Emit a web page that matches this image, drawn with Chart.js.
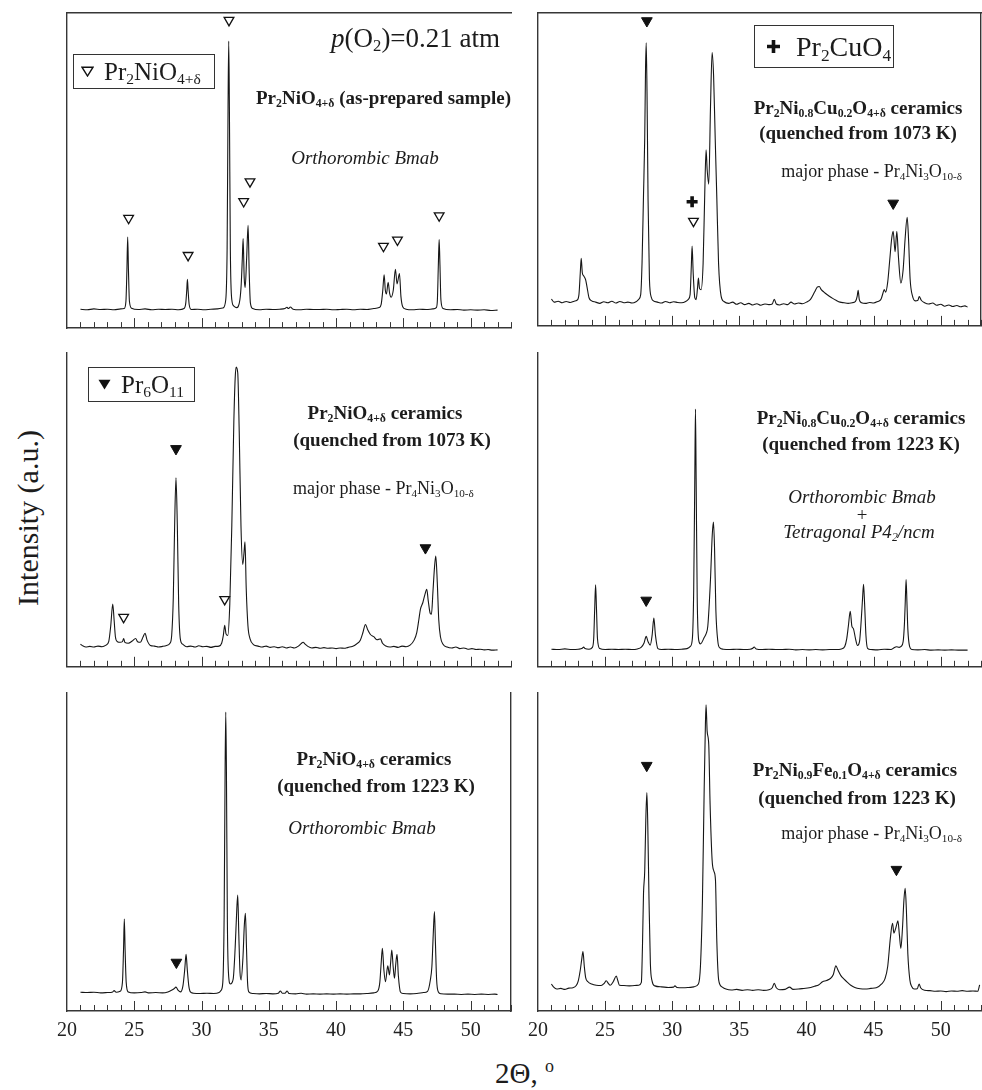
<!DOCTYPE html>
<html>
<head>
<meta charset="utf-8">
<title>XRD patterns of Pr2NiO4+δ based ceramics</title>
<script src="https://cdn.jsdelivr.net/npm/chart.js@4.4.1/dist/chart.umd.min.js"></script>
<style>
  html, body { margin: 0; padding: 0; background: #fff; }
  body {
    width: 982px; height: 1090px; position: relative; overflow: hidden;
    font-family: "Liberation Serif", "Times New Roman", serif; color: #1c1c1c;
  }
  canvas { position: absolute; }
  .t { position: absolute; white-space: nowrap; line-height: 1; z-index: 2; }
  .c { transform: translate(-50%, -50%); }
  .l { transform: translate(0, -50%); }
  .r { transform: translate(-100%, -50%); }
  .b { font-weight: bold; font-size: 19px; }
  .i { font-style: italic; font-size: 19px; }
  .n { font-size: 18px; }
  sub { font-size: 0.62em; vertical-align: -0.28em; line-height: 0; }
  sup { font-size: 0.62em; vertical-align: 0.6em; line-height: 0; }
  .box {
    position: absolute; border: 1px solid #333; box-sizing: border-box; z-index: 2;
    display: flex; align-items: center; white-space: nowrap; line-height: 1;
  }
  .box svg { flex: none; }
</style>
</head>
<body>

<!-- axis titles -->
<div class="t c" style="left:28px;top:518px;font-size:30px;transform:translate(-50%,-50%) rotate(-90deg);">Intensity (a.u.)</div>
<div class="t l" style="left:495px;top:1073px;font-size:29px;">2&Theta;, <sup>o</sup></div>

<!-- top-left panel -->
<div class="box" style="left:73px;top:54px;width:142px;height:35px;padding-left:7px;font-size:25px;">
  <svg width="13" height="11" viewBox="0 0 13 11"><path d="M1 1.2 L12 1.2 L6.5 10 Z" fill="none" stroke="#111" stroke-width="1.4"/></svg>
  <span style="margin-left:10px;">Pr<sub>2</sub>NiO<sub>4+&delta;</sub></span>
</div>
<div class="t l" style="left:331px;top:38px;font-size:27px;"><i>p</i>(O<sub>2</sub>)=0.21 atm</div>
<div class="t l b" style="left:256px;top:97px;">Pr<sub>2</sub>NiO<sub>4+&delta;</sub> (as-prepared sample)</div>
<div class="t c i" style="left:365px;top:157px;">Orthorombic Bmab</div>

<!-- top-right panel -->
<div class="box" style="left:754px;top:25px;width:140px;height:43px;padding-left:11px;font-size:28px;">
  <svg width="15" height="15" viewBox="0 0 15 15"><path d="M7.5 1 V14 M1 7.5 H14" stroke="#111" stroke-width="3.6"/></svg>
  <span style="margin-left:15px;">Pr<sub>2</sub>CuO<sub>4</sub></span>
</div>
<div class="t c b" style="left:858px;top:107px;">Pr<sub>2</sub>Ni<sub>0.8</sub>Cu<sub>0.2</sub>O<sub>4+&delta;</sub> ceramics</div>
<div class="t c b" style="left:858px;top:132px;">(quenched from 1073 K)</div>
<div class="t r n" style="left:962px;top:171px;">major phase - Pr<sub>4</sub>Ni<sub>3</sub>O<sub>10-&delta;</sub></div>

<!-- middle-left panel -->
<div class="box" style="left:88px;top:367px;width:107px;height:35px;padding-left:9px;font-size:25px;">
  <svg width="13" height="11" viewBox="0 0 13 11"><path d="M0.5 0.8 L12.5 0.8 L6.5 10.5 Z" fill="#111"/></svg>
  <span style="margin-left:10px;">Pr<sub>6</sub>O<sub>11</sub></span>
</div>
<div class="t c b" style="left:385px;top:412px;">Pr<sub>2</sub>NiO<sub>4+&delta;</sub> ceramics</div>
<div class="t c b" style="left:392px;top:439px;">(quenched from 1073 K)</div>
<div class="t l n" style="left:293px;top:488px;">major phase - Pr<sub>4</sub>Ni<sub>3</sub>O<sub>10-&delta;</sub></div>

<!-- middle-right panel -->
<div class="t c b" style="left:861px;top:417px;">Pr<sub>2</sub>Ni<sub>0.8</sub>Cu<sub>0.2</sub>O<sub>4+&delta;</sub> ceramics</div>
<div class="t c b" style="left:861px;top:443px;">(quenched from 1223 K)</div>
<div class="t c i" style="left:862px;top:496px;">Orthorombic Bmab</div>
<div class="t c i" style="left:862px;top:514px;">+</div>
<div class="t c i" style="left:859px;top:531px;">Tetragonal P4<sub>2</sub>/ncm</div>

<!-- bottom-left panel -->
<div class="t c b" style="left:374px;top:758px;">Pr<sub>2</sub>NiO<sub>4+&delta;</sub> ceramics</div>
<div class="t c b" style="left:376px;top:785px;">(quenched from 1223 K)</div>
<div class="t c i" style="left:362px;top:827px;">Orthorombic Bmab</div>

<!-- bottom-right panel -->
<div class="t c b" style="left:855px;top:769px;">Pr<sub>2</sub>Ni<sub>0.9</sub>Fe<sub>0.1</sub>O<sub>4+&delta;</sub> ceramics</div>
<div class="t c b" style="left:857px;top:797px;">(quenched from 1223 K)</div>
<div class="t r n" style="left:962px;top:833px;">major phase - Pr<sub>4</sub>Ni<sub>3</sub>O<sub>10-&delta;</sub></div>

<script>
// ---------- axis settings ----------
const twoThetaMin = 20;
const twoThetaMax = 53;
const twoThetaLabels = [20, 25, 30, 35, 40, 45, 50];
const intensityMin = 0;
const intensityMax = 100;

// ---------- diffraction patterns: [2θ (deg), intensity (a.u.)] ----------
// Pr2NiO4+δ, as-prepared
const patternAsPrepared = [
  [21.0,6.0],[21.5,5.8],[22.0,6.1],[22.5,5.9],[23.0,6.0],[23.5,5.8],[24.0,6.1],[24.25,6.2],
  [24.38,8.5],[24.45,18],[24.51,28.9],[24.57,18],[24.64,8.5],[24.8,6.3],
  [25.3,5.9],[25.8,6.1],[26.3,5.8],[26.8,6.0],[27.3,5.9],[27.8,6.0],[28.3,5.8],[28.7,6.2],
  [28.83,8],[28.9,12],[28.95,15.5],[29.0,12],[29.08,7.5],[29.25,5.9],
  [29.7,6.0],[30.2,5.8],[30.7,6.0],[31.2,6.1],[31.6,6.4],
  [31.8,9],[31.9,25],[31.97,70],[32.02,91.1],[32.07,70],[32.14,25],[32.25,9],[32.4,7.0],
  [32.6,6.5],[32.85,9],[32.95,14],[33.03,22],[33.09,28.4],[33.17,16],[33.24,12.9],[33.35,22],[33.46,32.6],[33.54,18],[33.63,8],[33.8,6.2],
  [34.3,5.8],[34.8,6.0],[35.3,5.9],[35.8,6.0],[36.2,6.2],[36.35,6.6],[36.45,6.2],[36.6,6.7],[36.8,6.0],
  [37.3,5.8],[37.8,6.0],[38.3,5.9],[38.8,5.9],[39.3,6.0],[39.8,5.8],[40.3,5.9],[40.8,6.0],[41.3,5.8],
  [41.8,6.0],[42.3,5.9],[42.8,6.2],[43.2,6.5],
  [43.35,7.5],[43.47,12],[43.57,16.9],[43.66,12],[43.74,10.8],[43.87,14.5],[43.98,11],[44.09,9.8],
  [44.25,12],[44.41,18.7],[44.53,14],[44.71,17.3],[44.82,10],[44.95,6.8],[45.2,6.0],
  [45.7,5.8],[46.2,6.0],[46.7,5.9],[47.2,6.1],[47.45,6.5],
  [47.53,9],[47.6,20],[47.66,28.1],[47.72,20],[47.79,9],[47.95,6.2],
  [48.5,5.8],[49.0,5.9],[49.5,5.7],[50.0,5.8],[50.5,5.7],[51.0,5.8],[51.5,5.6],[52.0,5.7]
];
const openMarksAsPrepared = [[24.58,34.9],[29.0,23.1],[32.04,97.7],[33.13,40.2],[33.6,46.5],[43.52,26.0],[44.56,28.0],[47.66,35.7]];

// Pr2Ni0.8Cu0.2O4+δ, quenched from 1073 K
const patternCu1073 = [
  [21.0,8.6],[21.2,7.6],[21.5,7.9],[21.8,7.4],[22.1,7.8],[22.4,7.5],[22.7,7.9],[22.9,8.2],
  [23.05,10],[23.15,17],[23.22,21.6],[23.3,17],[23.4,16],[23.55,14.7],[23.65,12.5],[23.8,9],[24.0,8],
  [24.3,7.6],[24.6,7.2],[24.9,7.7],[25.2,7.4],[25.5,7.9],[25.8,7.3],[26.1,7.8],[26.4,7.4],[26.7,7.6],[27.0,7.3],[27.3,7.7],[27.5,8.5],
  [27.65,10],[27.75,20],[27.86,42],[27.95,60],[28.01,82],[28.06,90.5],[28.12,75],[28.2,40],[28.3,15],[28.45,9],[28.6,8],
  [28.9,7.6],[29.2,7.3],[29.5,7.8],[29.8,7.4],[30.1,7.7],[30.4,7.5],[30.7,7.4],[31.0,7.8],[31.2,8.5],
  [31.33,10],[31.42,19],[31.48,25.5],[31.56,17],[31.68,9],[31.78,8.4],[31.88,12],[31.95,15.3],[32.03,12],[32.15,11.6],
  [32.3,20],[32.42,42],[32.52,56.3],[32.6,50],[32.72,45.3],[32.85,70],[32.97,87.4],[33.08,80],[33.2,60],[33.32,41],[33.45,20],[33.64,9.5],[33.85,7.8],
  [34.2,7.2],[34.5,7.6],[34.8,6.9],[35.1,7.4],[35.4,6.8],[35.7,7.2],[36.0,6.7],[36.3,7.1],[36.6,6.6],[36.9,7.0],[37.2,6.8],[37.45,7.0],[37.6,8.5],[37.75,7.0],
  [38.0,6.7],[38.3,7.1],[38.6,6.8],[38.85,7.6],[39.1,7.0],[39.4,7.3],[39.7,7.1],[40.0,7.6],
  [40.3,8.5],[40.6,10.8],[40.8,12.4],[40.95,12.6],[41.1,11.6],[41.3,10.8],[41.5,10.1],[41.7,9.5],[41.95,8.8],[42.2,8.2],[42.5,7.6],[42.8,7.4],[43.1,7.2],[43.4,7.4],[43.65,7.8],
  [43.78,9.5],[43.85,11.4],[43.93,8.5],[44.1,7.4],[44.4,7.2],[44.7,7.5],[45.0,7.3],[45.3,7.8],[45.55,8.5],
  [45.7,10.5],[45.79,11.6],[45.9,10.8],[46.05,14],[46.2,21],[46.35,28],[46.46,30.2],[46.6,23.7],[46.73,30.2],[46.85,22],[47.03,13.7],
  [47.2,18],[47.35,28],[47.5,34.7],[47.6,28],[47.72,15],[47.9,9.5],[48.1,8.0],
  [48.3,8.2],[48.4,9.4],[48.55,8.2],[48.8,7.4],[49.1,7.0],[49.4,7.3],[49.7,6.6],[50.0,6.9],[50.3,6.3],[50.6,6.7],[50.9,6.2],[51.2,6.5],[51.5,6.1],[51.8,6.4],[52.0,6.0]
];
const filledMarksCu1073 = [[28.11,97.5],[46.46,39.2]];
const plusMarksCu1073 = [[31.48,39.7]];
const openMarksCu1073 = [[31.58,33.5]];

// Pr2NiO4+δ, quenched from 1073 K
const patternNi1073 = [
  [21.0,7.2],[21.2,6.6],[21.4,6.3],[21.7,6.5],[22.0,6.3],[22.3,6.6],[22.6,6.4],[22.9,6.9],[23.1,8],
  [23.25,13],[23.4,20],[23.5,15],[23.6,9.5],[23.75,8],[23.95,7.8],
  [24.12,8],[24.21,9.0],[24.3,7.8],[24.55,7.5],[24.85,8.2],[25.1,9.0],[25.25,8.0],[25.45,7.8],[25.65,9.5],[25.8,10.7],[25.95,8.5],
  [26.2,6.8],[26.5,6.6],[26.8,6.3],[27.1,6.5],[27.4,6.8],[27.65,7.5],
  [27.78,10],[27.9,22],[28.0,45],[28.1,60.2],[28.2,45],[28.3,20],[28.42,9],[28.6,7.2],
  [28.9,6.4],[29.2,6.6],[29.5,6.3],[29.8,6.7],[30.1,6.4],[30.4,6.5],[30.7,6.2],[31.0,6.5],[31.3,6.6],[31.5,7.6],
  [31.62,10],[31.72,13.2],[31.82,10.5],[31.95,10],[32.1,20],[32.25,45],[32.4,78],[32.5,92],[32.57,95.5],[32.69,93.7],
  [32.8,75],[32.93,45],[33.06,32.6],[33.15,36],[33.23,39.8],[33.32,25],[33.45,13],[33.6,9],[33.88,7.0],
  [34.2,6.6],[34.5,6.3],[34.8,6.6],[35.1,6.2],[35.4,6.4],[35.7,6.1],[36.0,6.4],[36.3,6.0],[36.6,6.3],[36.9,6.0],
  [37.2,6.6],[37.4,7.4],[37.55,7.8],[37.7,7.2],[37.9,6.5],[38.2,6.0],[38.5,6.2],[38.8,5.9],[39.1,6.1],[39.4,5.9],
  [39.7,6.0],[40.0,5.8],[40.3,6.0],[40.6,5.9],[40.9,6.2],[41.2,6.5],[41.5,7.2],[41.8,8.5],
  [42.0,11],[42.18,13.5],[42.35,11.8],[42.55,10.3],[42.8,9.6],[43.05,8.6],[43.3,8.9],[43.45,7.5],[43.7,6.6],
  [44.0,6.3],[44.3,6.5],[44.6,6.2],[44.9,6.6],[45.2,6.4],[45.5,6.9],[45.8,8.5],
  [46.0,11],[46.15,15],[46.27,18.4],[46.45,20.5],[46.6,23],[46.74,24.7],[46.85,21],[47.0,17],[47.09,16.8],
  [47.2,24],[47.32,32],[47.41,35.3],[47.52,27],[47.63,15],[47.76,9.5],[47.95,7.2],[48.25,6.3],
  [48.6,6.0],[48.9,6.3],[49.2,5.8],[49.5,6.0],[49.8,5.6],[50.1,5.8],[50.4,5.5],[50.7,5.6],[51.0,5.4],[51.3,5.5],[51.6,5.3],[52.0,5.4]
];
const openMarksNi1073 = [[24.21,15.8],[31.72,21.5]];
const filledMarksNi1073 = [[28.1,69.5],[46.64,37.9]];

// Pr2Ni0.8Cu0.2O4+δ, quenched from 1223 K
const patternCu1223 = [
  [21.0,5.6],[21.5,5.5],[22.0,5.7],[22.5,5.5],[23.0,5.6],[23.3,5.9],[23.4,6.3],[23.5,5.8],[23.8,5.6],[24.05,6.2],
  [24.15,9],[24.22,18],[24.29,26.1],[24.36,18],[24.43,9],[24.6,5.8],
  [25.0,5.5],[25.5,5.6],[26.0,5.5],[26.5,5.6],[27.0,5.5],[27.4,5.7],[27.7,6.3],
  [27.9,7.6],[28.06,9.7],[28.2,8.0],[28.36,6.9],[28.5,10],[28.63,15.5],[28.75,10],[28.93,5.8],[29.2,5.5],
  [29.7,5.6],[30.2,5.5],[30.7,5.6],[31.1,5.8],[31.35,6.5],
  [31.5,9],[31.6,25],[31.68,60],[31.73,82.1],[31.78,60],[31.86,22],[31.97,8.5],[32.1,7.3],
  [32.4,9.5],[32.52,10.5],[32.65,13],[32.85,28],[32.98,42],[33.07,46.1],[33.15,38],[33.25,18],[33.4,8],[33.55,6.0],[33.8,5.6],
  [34.3,5.5],[34.8,5.6],[35.3,5.5],[35.8,5.6],[36.0,5.9],[36.1,6.3],[36.25,5.7],[36.7,5.5],[37.2,5.6],[37.7,5.5],
  [38.2,5.5],[38.7,5.6],[39.2,5.4],[39.7,5.5],[40.2,5.4],[40.7,5.5],[41.2,5.4],[41.7,5.5],[42.2,5.5],[42.6,5.7],[42.85,6.5],
  [43.0,9],[43.12,13],[43.26,17.7],[43.38,13],[43.5,12.1],[43.65,9],[43.8,6.8],[43.95,8],[44.08,15],[44.18,22],[44.25,26.3],
  [44.33,20],[44.43,10],[44.55,5.9],[44.8,5.5],
  [45.3,5.4],[45.8,5.6],[46.3,5.5],[46.5,6.0],[46.7,6.4],[46.9,6.2],[47.05,6.5],[47.2,8],
  [47.3,14],[47.36,21],[47.42,27.8],[47.48,21],[47.55,12],[47.68,6.5],[47.85,5.5],
  [48.3,5.4],[48.8,5.5],[49.3,5.3],[49.8,5.4],[50.3,5.3],[50.8,5.4],[51.3,5.3],[51.8,5.3],[52.0,5.3]
];
const filledMarksCu1223 = [[28.06,21.2]];

// Pr2NiO4+δ, quenched from 1223 K
const patternNi1223 = [
  [21.0,5.9],[21.5,5.8],[22.0,5.9],[22.5,5.7],[23.0,5.8],[23.4,6.0],[23.5,6.4],[23.65,5.9],[23.95,6.2],
  [24.12,9],[24.2,19],[24.26,28.9],[24.32,19],[24.4,9],[24.55,6.0],
  [25.0,5.7],[25.5,5.8],[25.8,6.0],[26.1,5.7],[26.6,5.8],[27.1,5.7],[27.5,6.0],[27.8,6.6],
  [27.95,7.0],[28.1,7.5],[28.25,6.6],[28.43,6.0],[28.62,8],[28.75,13],[28.85,17.8],[28.94,13],[29.05,8],[29.17,6.0],[29.4,5.6],
  [29.9,5.5],[30.4,5.6],[30.9,5.5],[31.3,5.8],[31.45,6.5],
  [31.58,9],[31.68,30],[31.75,75],[31.8,94],[31.85,75],[31.92,28],[32.0,12],[32.14,8.5],
  [32.35,10],[32.5,20],[32.62,32],[32.69,36.5],[32.77,24],[32.86,12],[32.94,9.8],
  [33.08,17],[33.18,27],[33.26,30.7],[33.34,20],[33.42,9],[33.51,6.0],[33.8,5.5],
  [34.3,5.4],[34.8,5.5],[35.3,5.4],[35.7,5.6],[35.86,6.3],[36.0,5.6],[36.2,5.6],[36.36,6.3],[36.5,5.5],
  [37.0,5.4],[37.4,5.6],[37.8,5.3],[38.3,5.4],[38.8,5.3],[39.3,5.4],[39.8,5.3],[40.3,5.4],[40.8,5.3],
  [41.3,5.4],[41.8,5.4],[42.3,5.5],[42.8,5.7],[43.1,6.3],
  [43.25,9],[43.35,15],[43.44,19.7],[43.55,13],[43.67,9.2],[43.84,14.2],[43.97,11.3],[44.05,15],[44.14,19.2],
  [44.24,14],[44.34,10.3],[44.44,15],[44.53,17.8],[44.63,11],[44.78,6.0],[45.0,5.5],
  [45.5,5.4],[46.0,5.5],[46.5,5.8],[46.8,6.2],[47.0,9.6],
  [47.12,14],[47.22,24],[47.31,31.3],[47.38,22],[47.47,10],[47.6,6.0],[47.8,5.4],
  [48.3,5.3],[48.8,5.3],[49.3,5.2],[49.8,5.3],[50.3,5.2],[50.8,5.3],[51.3,5.2],[51.8,5.3],[52.0,5.2]
];
const filledMarksNi1223 = [[28.13,15.3]];

// Pr2Ni0.9Fe0.1O4+δ, quenched from 1223 K
const patternFe1223 = [
  [21.0,8.5],[21.15,7.6],[21.4,6.9],[21.7,7.1],[22.0,6.8],[22.3,7.2],[22.6,7.3],[22.85,8.0],[23.0,9.5],
  [23.15,12.9],[23.25,16],[23.35,18.7],[23.45,14],[23.55,10.5],[23.72,9.2],[24.0,8.5],[24.34,8.1],[24.7,8.0],[24.95,8.8],
  [25.08,9.5],[25.25,8.6],[25.38,8.1],[25.6,9.2],[25.83,11],[25.95,9.5],[26.07,8.1],[26.4,8.0],[26.8,7.9],[27.2,8.0],[27.5,8.1],[27.7,9],
  [27.78,20],[27.86,37],[27.95,44],[28.03,60],[28.11,68.7],[28.18,58],[28.27,35],[28.37,15],[28.5,9.4],[28.7,7.9],
  [29.2,7.6],[29.7,7.4],[30.1,7.5],[30.2,7.9],[30.35,7.4],[30.8,7.3],[31.2,7.4],[31.6,7.6],[31.95,8.5],
  [32.1,14],[32.25,35],[32.38,70],[32.47,90],[32.52,96.3],[32.6,88],[32.72,83.7],[32.82,65],[32.97,47.5],[33.1,44],[33.22,41.2],
  [33.32,22],[33.46,9.7],[33.7,7.6],[34.0,6.9],
  [34.4,6.6],[34.8,6.8],[35.2,6.5],[35.6,6.7],[36.0,6.5],[36.4,6.7],[36.8,6.5],[37.2,6.7],[37.45,7.3],[37.6,8.7],[37.75,7.3],
  [38.0,6.7],[38.4,6.8],[38.74,7.5],[39.0,6.8],[39.4,6.9],[39.8,7.1],[40.2,7.3],[40.6,7.8],[40.9,8.2],[41.2,9.2],[41.5,9.6],[41.8,10.3],[42.0,11.5],
  [42.19,14.2],[42.35,12.8],[42.55,11.2],[42.8,10.0],[43.05,9.0],[43.3,8.1],[43.6,7.4],[44.0,7.0],[44.4,6.9],[44.8,7.1],[45.2,7.3],[45.6,8.5],[45.85,10.2],
  [46.05,14],[46.25,23],[46.41,27.6],[46.51,24.5],[46.61,25.5],[46.71,27],[46.81,28.4],[46.92,24],[47.03,19.7],
  [47.15,26],[47.26,35],[47.35,38.6],[47.44,32],[47.55,18],[47.7,9.8],[47.85,7.6],[48.02,6.9],
  [48.25,7.0],[48.39,8.5],[48.5,7.3],[48.8,6.5],[49.2,6.4],[49.6,6.2],[50.0,6.3],[50.4,6.1],[50.8,6.3],[51.2,6.2],
  [51.6,6.4],[52.0,6.2],[52.4,6.3],[52.75,6.2],[52.9,8.2]
];
const filledMarksFe1223 = [[28.1,77.2],[46.7,44.5]];

// ---------- panel layout (page pixels) ----------
const PAD = { left: 20, right: 20, top: 10, bottom: 4 };
const LABEL_BAND = 40;
const INK = '#161616';
const AXIS_INK = '#363636';
const FONT = '"Liberation Serif", "Times New Roman", serif';

const panels = [
  { left: 67,  top: 13,  width: 444, height: 318, pattern: patternAsPrepared, open: openMarksAsPrepared, topBorder: true },
  { left: 538, top: 13,  width: 443, height: 318, pattern: patternCu1073, filled: filledMarksCu1073, plus: plusMarksCu1073, open: openMarksCu1073, topBorder: true, rightBorder: true },
  { left: 67,  top: 353, width: 444, height: 317, pattern: patternNi1073, open: openMarksNi1073, filled: filledMarksNi1073 },
  { left: 538, top: 353, width: 443, height: 317, pattern: patternCu1223, filled: filledMarksCu1223 },
  { left: 67,  top: 693, width: 444, height: 318, pattern: patternNi1223, filled: filledMarksNi1223, rightBorder: true, labels: true },
  { left: 538, top: 693, width: 443, height: 318, pattern: patternFe1223, filled: filledMarksFe1223, labels: true }
];

// inward tick marks on the 2θ axis: long every 5°, short every 1°
const innerTicks = {
  id: 'innerTicks',
  afterDatasetsDraw(chart) {
    const { ctx, chartArea } = chart;
    const sx = chart.scales.x;
    ctx.save();
    ctx.strokeStyle = AXIS_INK;
    ctx.lineWidth = 1;
    for (let v = twoThetaMin + 1; v <= twoThetaMax; v++) {
      const px = Math.round(sx.getPixelForValue(v)) + 0.5;
      const len = v % 5 === 0 ? 10 : 6;
      ctx.beginPath();
      ctx.moveTo(px, chartArea.bottom);
      ctx.lineTo(px, chartArea.bottom - len);
      ctx.stroke();
    }
    ctx.restore();
  }
};

const toXY = arr => arr.map(([x, y]) => ({ x, y }));

function markerDataset(points, kind) {
  const common = { data: toXY(points), showLine: false, clip: false, order: 0, pointHoverRadius: 0 };
  if (kind === 'open') {
    return Object.assign(common, { pointStyle: 'triangle', pointRotation: 180, pointRadius: 5.6,
      pointBackgroundColor: '#fff', pointBorderColor: '#111', pointBorderWidth: 1.3 });
  }
  if (kind === 'filled') {
    return Object.assign(common, { pointStyle: 'triangle', pointRotation: 180, pointRadius: 6.2,
      pointBackgroundColor: '#111', pointBorderColor: '#111', pointBorderWidth: 1 });
  }
  return Object.assign(common, { pointStyle: 'cross', pointRadius: 5.5,
    pointBackgroundColor: '#111', pointBorderColor: '#111', pointBorderWidth: 3.6 });
}

function frameAxis(position, show, isX) {
  return {
    type: 'linear',
    position,
    display: show,
    min: isX ? twoThetaMin : intensityMin,
    max: isX ? twoThetaMax : intensityMax,
    ticks: { display: false },
    grid: { display: true, drawOnChartArea: false, drawTicks: false },
    border: { display: true, color: AXIS_INK, width: 1.4 },
    afterFit(scale) { if (isX) scale.height = 0; else scale.width = 0; }
  };
}

panels.forEach(p => {
  const band = p.labels ? LABEL_BAND : 0;
  const canvas = document.createElement('canvas');
  const w = p.width + PAD.left + PAD.right;
  const h = p.height + PAD.top + PAD.bottom + band;
  canvas.width = w;
  canvas.height = h;
  canvas.style.width = w + 'px';
  canvas.style.height = h + 'px';
  canvas.style.left = (p.left - PAD.left) + 'px';
  canvas.style.top = (p.top - PAD.top) + 'px';
  document.body.appendChild(canvas);

  const datasets = [{
    data: toXY(p.pattern),
    borderColor: INK,
    borderWidth: 1.1,
    pointRadius: 0,
    pointHoverRadius: 0,
    fill: false,
    cubicInterpolationMode: 'monotone',
    order: 1
  }];
  if (p.open) datasets.push(markerDataset(p.open, 'open'));
  if (p.filled) datasets.push(markerDataset(p.filled, 'filled'));
  if (p.plus) datasets.push(markerDataset(p.plus, 'plus'));

  new Chart(canvas, {
    type: 'line',
    data: { datasets },
    options: {
      responsive: false,
      maintainAspectRatio: false,
      animation: false,
      devicePixelRatio: 1,
      events: [],
      layout: { padding: PAD },
      plugins: { legend: { display: false }, tooltip: { enabled: false } },
      scales: {
        x: {
          type: 'linear',
          position: 'bottom',
          min: twoThetaMin,
          max: twoThetaMax,
          grid: { display: true, drawOnChartArea: false, drawTicks: false },
          border: { display: true, color: AXIS_INK, width: 1.4 },
          ticks: {
            display: !!p.labels,
            stepSize: 1,
            autoSkip: false,
            maxRotation: 0,
            padding: 8,
            color: '#222',
            font: { family: FONT, size: 20 },
            callback: v => (twoThetaLabels.includes(v) ? String(v) : '')
          },
          afterFit(scale) { scale.height = band; }
        },
        y: frameAxis('left', true, false),
        xTop: frameAxis('top', !!p.topBorder, true),
        yRight: frameAxis('right', !!p.rightBorder, false)
      }
    },
    plugins: [innerTicks]
  });
});
</script>
</body>
</html>
